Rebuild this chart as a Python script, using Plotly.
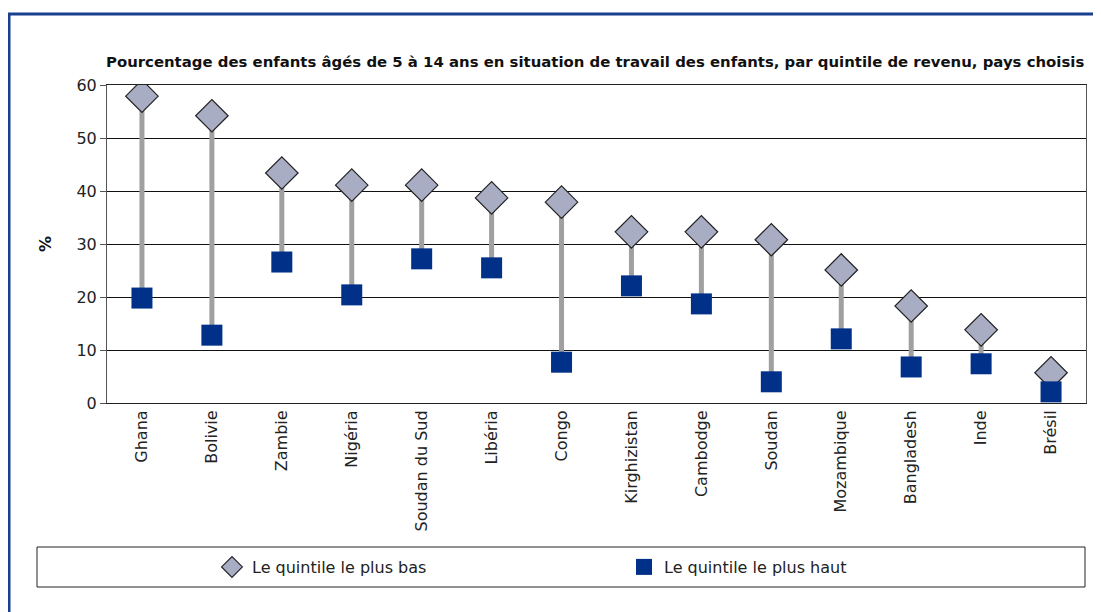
import plotly.graph_objects as go

# data
pays = ["Ghana", "Bolivie", "Zambie", "Nigéria", "Soudan du Sud", "Libéria", "Congo",
        "Kirghizistan", "Cambodge", "Soudan", "Mozambique", "Bangladesh", "Inde", "Brésil"]
quintile_bas = [57.9, 54.2, 43.4, 41.1, 41.1, 38.7, 37.9, 32.3, 32.3, 30.8, 25.1, 18.3, 13.8, 5.7]
quintile_haut = [19.8, 12.8, 26.6, 20.4, 27.2, 25.5, 7.7, 22.1, 18.7, 4.0, 12.1, 6.8, 7.4, 2.1]
y_ticks = [0, 10, 20, 30, 40, 50, 60]

OFF = 8  # page body margin
W, H = 1101 - OFF, 612 - OFF
L, R, T, B = 107 - OFF, 1086 - OFF, 85 - OFF, 403 - OFF  # plot area in figure pixels


def px(x):
    return (x - OFF - L) / (R - L)


def py(y):
    return (B - (y - OFF)) / (B - T)


fig = go.Figure()

# grey connectors between the two quintiles
lx, ly = [], []
for p, lo, hi in zip(pays, quintile_bas, quintile_haut):
    lx += [p, p, None]
    ly += [lo, hi, None]
fig.add_trace(go.Scatter(x=lx, y=ly, mode="lines", line=dict(color="#A0A0A0", width=5),
                         showlegend=False, hoverinfo="skip"))

fig.add_trace(go.Scatter(x=pays, y=quintile_bas, mode="markers", name="Le quintile le plus bas",
                         marker=dict(symbol="diamond", size=25, color="#A9ADC4",
                                     line=dict(color="#222222", width=1.2))))
fig.add_trace(go.Scatter(x=pays, y=quintile_haut, mode="markers", name="Le quintile le plus haut",
                         marker=dict(symbol="square", size=21, color="#003087",
                                     line=dict(width=0))))

fig.update_layout(
    width=W, height=H,
    margin=dict(l=L, r=W - R, t=T, b=H - B),
    plot_bgcolor="white", paper_bgcolor="white",
    font=dict(family="DejaVu Sans, sans-serif", size=16, color="#222222"),
    showlegend=True,
    legend=dict(orientation="h", traceorder="normal", x=px(212), y=py(567),
                xanchor="left", yanchor="middle", entrywidth=367, entrywidthmode="pixels",
                font=dict(size=16), bgcolor="rgba(0,0,0,0)"),
    annotations=[
        dict(text="<b>Pourcentage des enfants âgés de 5 à 14 ans en situation de travail des enfants, "
                  "par quintile de revenu, pays choisis</b>",
             xref="paper", yref="paper", x=1.0, y=py(62), xanchor="right", yanchor="middle",
             showarrow=False, font=dict(size=14.9, color="#111111")),
        dict(text="<b>%</b>", xref="paper", yref="paper", x=px(45), y=py(244), textangle=-90,
             xanchor="center", yanchor="middle", showarrow=False, font=dict(size=16, color="#111111")),
    ],
    shapes=[
        # outer blue frame
        dict(type="rect", xref="paper", yref="paper", x0=px(9), x1=px(1110), y0=py(14), y1=py(630),
             line=dict(color="#1A3F8F", width=3), fillcolor="rgba(0,0,0,0)", layer="below"),
        # legend box
        dict(type="rect", xref="paper", yref="paper", x0=px(37), x1=px(1085), y0=py(547), y1=py(587),
             line=dict(color="#222222", width=1), fillcolor="rgba(0,0,0,0)"),
    ],
)

fig.update_xaxes(type="category", categoryorder="array", categoryarray=pays, tickangle=-90,
                 range=[-0.5, len(pays) - 0.5],
                 showline=True, linecolor="#222222", linewidth=1, mirror=True, ticks="",
                 showgrid=False, tickfont=dict(size=16))
fig.update_yaxes(range=[0, 60], tickvals=y_ticks, showgrid=True, gridcolor="#111111", gridwidth=1,
                 showline=True, linecolor="#555555", linewidth=1, mirror=True, ticks="outside",
                 ticklen=6, tickcolor="#555555", zeroline=False, tickfont=dict(size=16))

fig.write_html("out.html")
